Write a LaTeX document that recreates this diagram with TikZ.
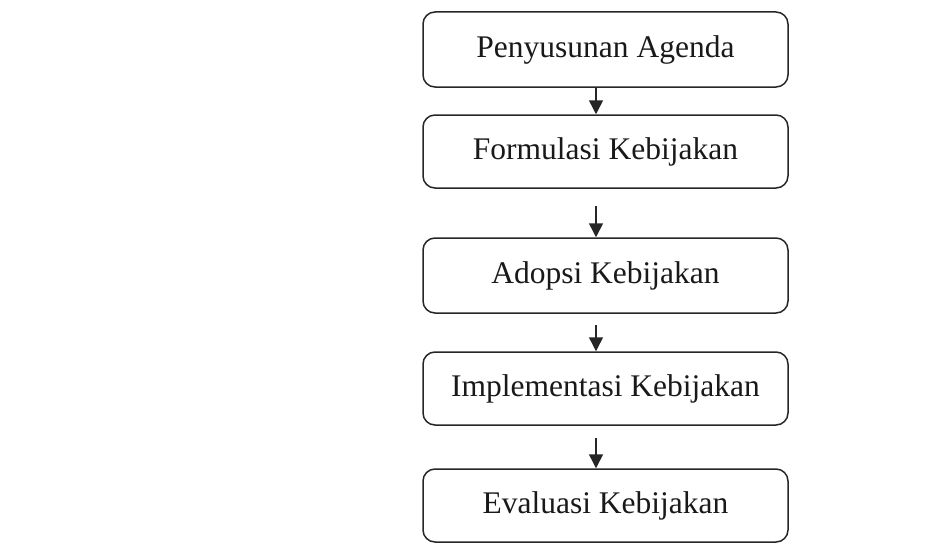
\documentclass[tikz,border=0pt]{standalone}
\usepackage{fontspec}
\setmainfont{Liberation Serif}
\usetikzlibrary{arrows.meta}
\begin{document}
\begin{tikzpicture}[x=1pt,y=-1pt,
  stagebox/.style={draw=black!85,line width=1.5pt,rounded corners=12pt,
    minimum width=365pt,inner sep=0pt,font=\fontsize{31.5}{36}\selectfont,text=black!90},
  flowarrow/.style={draw=black!85,line width=1.5pt,-{Triangle[length=14pt,width=14pt]}}]
\useasboundingbox (0,0) rectangle (933,543);
\node[stagebox,minimum height=75pt] (b1) at (605.5,49.5) {Penyusunan Agenda};
\node[stagebox,minimum height=73pt] (b2) at (605.5,151.5) {Formulasi Kebijakan};
\node[stagebox,minimum height=75pt] (b3) at (605.5,275.5) {Adopsi Kebijakan};
\node[stagebox,minimum height=73pt] (b4) at (605.5,388.5) {Implementasi Kebijakan};
\node[stagebox,minimum height=73pt] (b5) at (605.5,505.5) {Evaluasi Kebijakan};
\coordinate (ax) at (596,0);
\coordinate (s2) at (596,206);
\coordinate (s3) at (596,325);
\coordinate (s4) at (596,438);
\draw[flowarrow] (b1.south -| ax) -- (b2.north -| ax);
\draw[flowarrow] (s2) -- (b3.north -| ax);
\draw[flowarrow] (s3) -- (b4.north -| ax);
\draw[flowarrow] (s4) -- (b5.north -| ax);
\end{tikzpicture}
\end{document}
